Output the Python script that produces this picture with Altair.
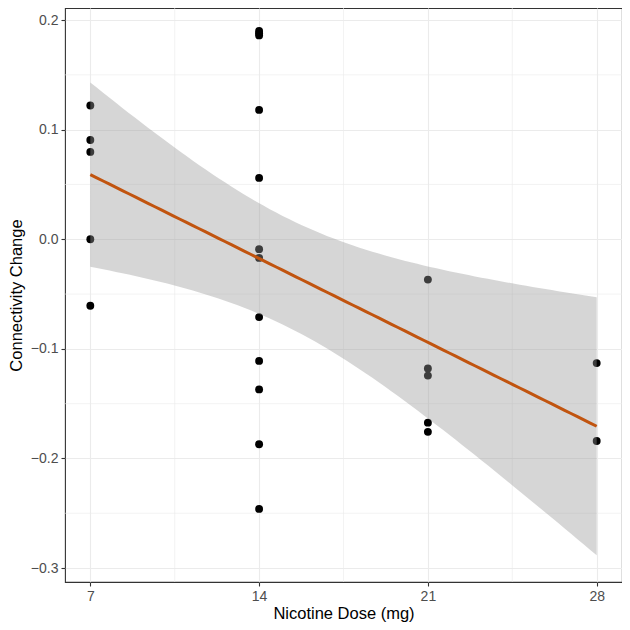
import altair as alt
import numpy as np
import pandas as pd

# Data
dose = [7, 7, 7, 7, 7,
        14, 14, 14, 14, 14, 14, 14, 14, 14, 14, 14, 14,
        21, 21, 21, 21, 21,
        28, 28]
change = [0.122, 0.0906, 0.0797, 0.000, -0.0607,
          0.190, 0.188, 0.186, 0.118, 0.056, -0.009, -0.017, -0.071, -0.111, -0.137, -0.187, -0.246,
          -0.0368, -0.1178, -0.1244, -0.1673, -0.1757,
          -0.113, -0.184]

x_major = [7, 14, 21, 28]
x_minor = [10.5, 17.5, 24.5]
y_major = [-0.3, -0.2, -0.1, 0.0, 0.1, 0.2]
y_minor = [-0.25, -0.15, -0.05, 0.05, 0.15]

x_domain = [5.95, 29.05]
y_domain = [-0.3127, 0.2110]

pts = pd.DataFrame({"dose": dose, "change": change})

# Linear fit with 95% confidence band (like geom_smooth(method="lm"))
x = np.array(dose, dtype=float)
y = np.array(change, dtype=float)
n = len(x)
b, a = np.polyfit(x, y, 1)
resid = y - (a + b * x)
s = np.sqrt(np.sum(resid ** 2) / (n - 2))
xbar = x.mean()
sxx = np.sum((x - xbar) ** 2)
tval = 2.0739  # t(0.975, df=22)
grid = np.linspace(x.min(), x.max(), 80)
fit = a + b * grid
se = s * np.sqrt(1.0 / n + (grid - xbar) ** 2 / sxx)
band = pd.DataFrame({"dose": grid, "fit": fit, "lo": fit - tval * se, "hi": fit + tval * se})

xs = alt.Scale(domain=x_domain, nice=False, zero=False)
ys = alt.Scale(domain=y_domain, nice=False, zero=False)

minor_x = alt.Chart(pd.DataFrame({"v": x_minor})).mark_rule(
    color="#EBEBEB", strokeWidth=0.6
).encode(x=alt.X("v:Q", scale=xs))
minor_y = alt.Chart(pd.DataFrame({"v": y_minor})).mark_rule(
    color="#EBEBEB", strokeWidth=0.6
).encode(y=alt.Y("v:Q", scale=ys))

points = alt.Chart(pts).mark_circle(size=62, color="black", opacity=1).encode(
    x=alt.X("dose:Q", scale=xs, title="Nicotine Dose (mg)",
            axis=alt.Axis(values=x_major, format="d")),
    y=alt.Y("change:Q", scale=ys, title="Connectivity Change",
            axis=alt.Axis(values=y_major, format=".1f",
                          labelExpr="replace(datum.label, '-', '\u2212')")),
)

ribbon = alt.Chart(band).mark_area(color="#999999", opacity=0.4).encode(
    x=alt.X("dose:Q", scale=xs),
    y=alt.Y("lo:Q", scale=ys),
    y2="hi:Q",
)

line = alt.Chart(band).mark_line(color="#C1540F", strokeWidth=3).encode(
    x=alt.X("dose:Q", scale=xs),
    y=alt.Y("fit:Q", scale=ys),
)

chart = alt.layer(minor_x, minor_y, points, ribbon, line).properties(
    width=557, height=574,
    autosize=alt.AutoSizeParams(type="none"),
    padding={"left": 57, "top": 0, "right": 0, "bottom": 40},
).configure_view(
    stroke="#333333", strokeWidth=1.1
).configure_axis(
    grid=True, gridColor="#EBEBEB", gridWidth=1.1,
    domain=False,
    ticks=True, tickColor="#333333", tickSize=4, tickWidth=1.1,
    labelFont="Liberation Sans", labelFontSize=14, labelColor="#4D4D4D",
    labelPadding=3,
    titleFont="Liberation Sans", titleFontSize=16.5, titleFontWeight="normal",
    titleColor="black",
).configure_axisX(
    titlePadding=2
).configure_axisY(
    titlePadding=6
)

chart.save("out.html", embed_options={"renderer": "svg", "actions": False})
